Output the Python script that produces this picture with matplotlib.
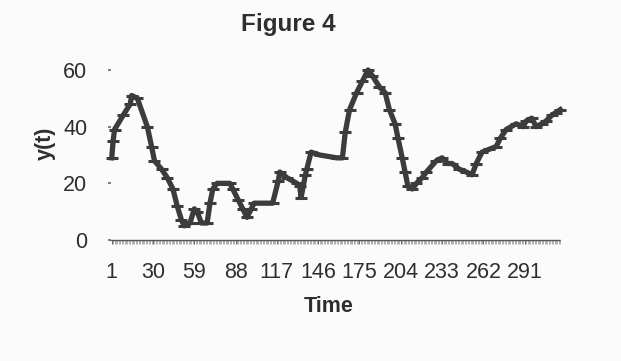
import matplotlib
matplotlib.use("Agg")
import matplotlib.pyplot as plt
from matplotlib.ticker import FixedLocator, MultipleLocator

plt.rcParams['font.family'] = ['Liberation Sans', 'DejaVu Sans']

# values (time index, y(t))
time = [1, 2, 3, 9, 14, 15, 19, 26, 29, 31, 36, 40, 44, 47, 50, 52, 56, 59, 61,
        64, 68, 70, 72, 75, 84, 86, 90, 93, 96, 99, 101, 110, 114, 118, 119, 124,
        131, 133, 134, 137, 138, 141, 147, 159, 163, 165, 168, 173, 177, 181, 184,
        189, 193, 196, 200, 202, 205, 207, 209, 212, 215, 219, 222, 229, 233, 237,
        240, 245, 250, 254, 257, 261, 266, 271, 274, 278, 285, 290, 292, 296, 299,
        303, 306, 310, 313, 316]
yt = [29, 35, 39, 44, 48, 51, 50, 40, 33, 28, 25, 22, 18, 12, 7, 5, 6, 11, 10,
      6, 6, 13, 18, 20, 20, 18, 14, 11, 8, 11, 13, 13, 13, 21, 24, 22,
      20, 19, 15, 23, 25, 31, 30, 29, 29, 38, 46, 52, 56, 60, 58,
      54, 52, 46, 41, 36, 29, 24, 19, 18, 20, 22, 24, 28, 29, 27,
      27, 25, 24, 23, 27, 31, 32, 33, 36, 39, 41, 40, 42, 43, 40,
      41, 42, 44, 45, 46]

n_cats = 316
xtick_vals = [1, 30, 59, 88, 117, 146, 175, 204, 233, 262, 291]
ytick_vals = [0, 20, 40, 60]

ink = '#2e2e2e'

fig = plt.figure(figsize=(6.21, 3.61), dpi=100)
fig.patch.set_facecolor('#fbfbfb')
ax = fig.add_axes([111 / 621, 1 - 240 / 361, 450 / 621, 170 / 361])
ax.set_facecolor('none')

ax.plot(time, yt, '-', color='#3c3c3c', linewidth=3.8, solid_joinstyle='round',
        clip_on=False)
ax.plot(time, yt, '_', color='#3c3c3c', markersize=8, markeredgewidth=2.2,
        clip_on=False)

ax.set_xlim(0.5, n_cats + 0.5)
ax.set_ylim(0, 60)

ax.xaxis.set_major_locator(FixedLocator(xtick_vals))
ax.xaxis.set_minor_locator(MultipleLocator(1))
ax.set_yticks(ytick_vals)

for s in ['top', 'right', 'left']:
    ax.spines[s].set_visible(False)
ax.spines['bottom'].set_color('#555555')
ax.spines['bottom'].set_linewidth(1.0)
ax.spines['bottom'].set_linestyle((0, (3, 1)))

ax.tick_params(axis='x', which='major', length=3, width=0.6, colors='#555555',
               labelcolor=ink, labelsize=15.5, pad=13)
ax.tick_params(axis='x', which='minor', length=3, width=0.4, colors='#777777')
ax.tick_params(axis='y', length=2, width=1.2, colors='#666666',
               labelcolor=ink, labelsize=15.5, pad=15)

fig.text(288 / 621, 1 - 25 / 361, 'Figure 4', ha='center', va='center',
         fontsize=17.5, fontweight='bold', color=ink)
fig.text(45 / 621, 1 - 143 / 361, 'y(t)', ha='center', va='center',
         rotation=90, fontsize=15.5, fontweight='bold', color=ink)
fig.text(329 / 621, 1 - 306 / 361, 'Time', ha='center', va='center',
         fontsize=15.5, fontweight='bold', color=ink)

plt.savefig('out.png', dpi=100)
